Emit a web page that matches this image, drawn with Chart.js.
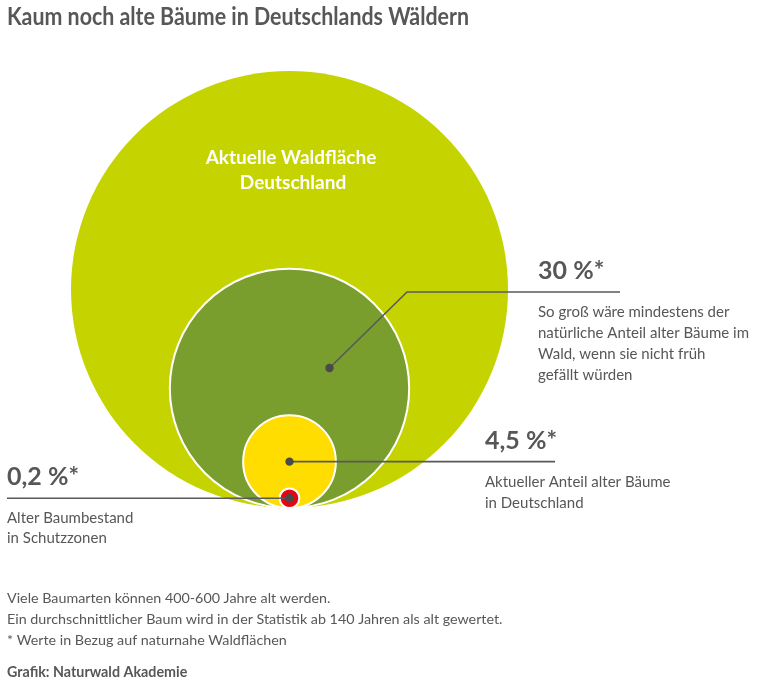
<!DOCTYPE html>
<html><head><meta charset="utf-8">
<script src="https://cdn.jsdelivr.net/npm/chart.js@4.4.1/dist/chart.umd.min.js"></script>
<style>html,body{margin:0;padding:0;background:#fff;}#wrap{width:761px;height:687px;position:relative;}</style>
</head><body><div id="wrap"><canvas id="c" width="761" height="687"></canvas></div>
<script>
// ---- data ----
const categories = ['Aktuelle Waldfläche Deutschland', 'Natürlicher Anteil alter Bäume', 'Aktueller Anteil alter Bäume', 'Alter Baumbestand in Schutzzonen'];
const shares = [100, 30, 4.5, 0.2]; // percent of forest area
const shareLabels = ['', '30\u202F%*', '4,5\u202F%*', '0,2\u202F%*'];
const circleLabel = ['Aktuelle Waldfläche', 'Deutschland'];
const desc30 = ['So groß wäre mindestens der', 'natürliche Anteil alter Bäume im', 'Wald, wenn sie nicht früh', 'gefällt würden'];
const desc45 = ['Aktueller Anteil alter Bäume', 'in Deutschland'];
const desc02 = ['Alter Baumbestand', 'in Schutzzonen'];
const titleText = 'Kaum noch alte Bäume in Deutschlands Wäldern';
const notes = ['Viele Baumarten können 400-600 Jahre alt werden.', 'Ein durchschnittlicher Baum wird in der Statistik ab 140 Jahren als alt gewertet.', '* Werte in Bezug auf naturnahe Waldflächen'];
const sourceText = 'Grafik: Naturwald Akademie';

// ---- styles / layout ----
const colors = ['#c5d400', '#799e2d', '#ffdd00', '#e30613'];
const borders = [0, 2, 2, 2];
const TXT = '#575757';
const W = 761, H = 687;
const L = {cx: 289.5, baseY: 508, R: 218.5};
const unit = L.R / Math.sqrt(100);
const FONT = 'Lato, "Open Sans", sans-serif';

// circles stand on a common base line: centre height = radius (in sqrt-area units)
const points = shares.map(v => ({x: 0, y: Math.sqrt(v), r: 0}));

function pxPerUnit(chart) {
  const y = chart.scales.y;
  return Math.abs(y.getPixelForValue(1) - y.getPixelForValue(0));
}

const annot = {
  id: 'annot',
  afterDatasetsDraw(chart) {
    const ctx = chart.ctx;
    const meta = chart.getDatasetMeta(0);
    const c = meta.data.map(e => ({x: e.x, y: e.y}));
    ctx.save();
    ctx.strokeStyle = '#595959';
    ctx.lineWidth = 1.6;
    // 30 %
    const s1 = {x: c[1].x + 40, y: 368};
    ctx.beginPath();
    ctx.moveTo(s1.x, s1.y);
    ctx.lineTo(407, 292);
    ctx.lineTo(620, 292);
    ctx.stroke();
    // 4,5 %
    ctx.beginPath();
    ctx.moveTo(c[2].x, c[2].y);
    ctx.lineTo(555, c[2].y);
    ctx.stroke();
    // 0,2 %
    ctx.beginPath();
    ctx.moveTo(7, c[3].y);
    ctx.lineTo(c[3].x, c[3].y);
    ctx.stroke();
    ctx.fillStyle = '#4a4a4a';
    [s1, c[2], c[3]].forEach(p => { ctx.beginPath(); ctx.arc(p.x, p.y, 4.2, 0, Math.PI * 2); ctx.fill(); });

    // texts
    ctx.textBaseline = 'alphabetic';
    ctx.textAlign = 'left';
    ctx.fillStyle = TXT;
    ctx.font = 'bold 24px ' + FONT;
    ctx.fillText(titleText, 7, 25, 462);

    ctx.fillStyle = '#ffffff';
    ctx.textAlign = 'center';
    ctx.font = 'bold 19px ' + FONT;
    ctx.fillText(circleLabel[0], 291, 164, 199);
    ctx.fillText(circleLabel[1], 293, 189, 124);

    ctx.textAlign = 'left';
    ctx.fillStyle = TXT;
    ctx.font = 'bold 25px ' + FONT;
    ctx.letterSpacing = '1.5px';
    ctx.fillText(shareLabels[1], 538, 279);
    ctx.fillText(shareLabels[2], 485, 449);
    ctx.fillText(shareLabels[3], 7, 485);
    ctx.letterSpacing = '0px';

    ctx.font = '15px ' + FONT;
    desc30.forEach((t, i) => ctx.fillText(t, 538, 317 + i * 21));
    desc45.forEach((t, i) => ctx.fillText(t, 485, 487 + i * 21));
    desc02.forEach((t, i) => ctx.fillText(t, 7, 523 + i * 20));

    ctx.font = '14.3px ' + FONT;
    notes.forEach((t, i) => ctx.fillText(t, 7, 603 + i * 21));
    ctx.font = 'bold 14.3px ' + FONT;
    ctx.fillText(sourceText, 7, 677);
    ctx.restore();
  }
};

const chart = new Chart(document.getElementById('c'), {
  type: 'bubble',
  data: {
    labels: categories,
    datasets: [{
      label: 'Anteil',
      data: points,
      backgroundColor: colors,
      borderColor: '#ffffff',
      borderWidth: borders,
      hoverRadius: 0,
      clip: false
    }]
  },
  options: {
    responsive: false,
    animation: false,
    events: [],
    layout: {padding: 0, autoPadding: false},
    plugins: {legend: {display: false}, tooltip: {enabled: false}, title: {display: false}},
    scales: {
      x: {type: 'linear', display: false, min: -L.cx / unit, max: (W - L.cx) / unit},
      y: {type: 'linear', display: false, min: -(H - L.baseY) / unit, max: L.baseY / unit}
    }
  },
  plugins: [annot]
});
// bubble radius (px) from the y scale: radius = sqrt(share) units
const k = pxPerUnit(chart);
chart.data.datasets[0].data.forEach(p => { p.r = k * p.y; });
chart.update();
</script>
</body></html>
